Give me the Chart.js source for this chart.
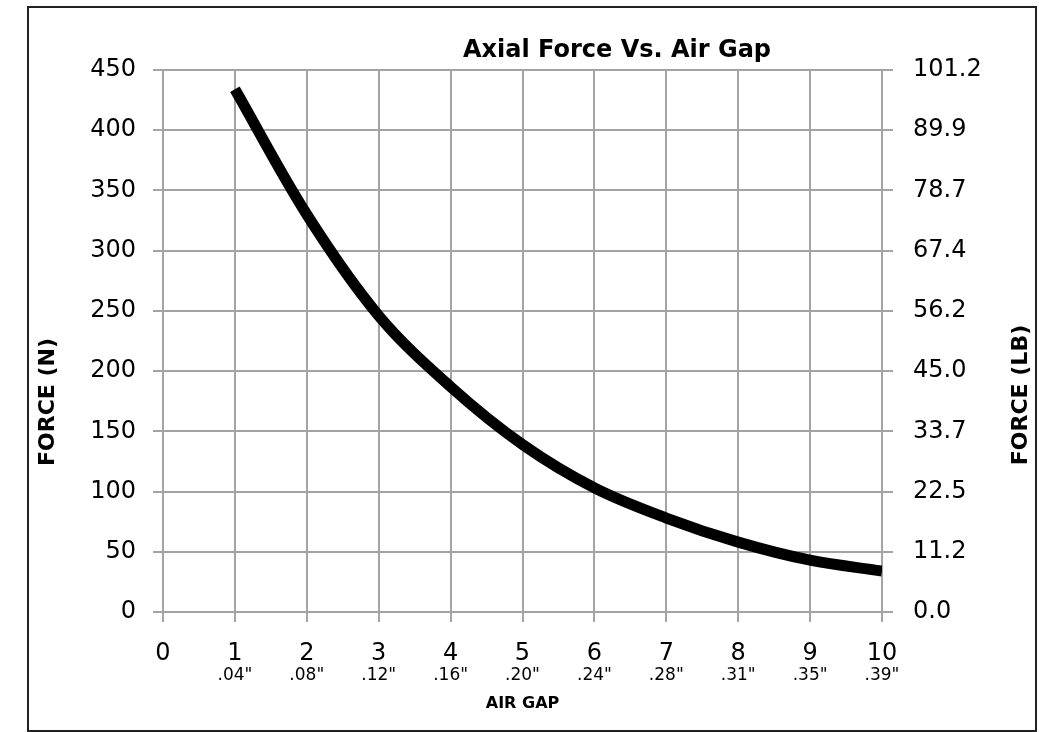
<!DOCTYPE html>
<html>
<head>
<meta charset="utf-8">
<script src="https://cdn.jsdelivr.net/npm/chart.js@4.4.0/dist/chart.umd.min.js"></script>
<style>
  html, body { margin: 0; padding: 0; background: #fff; }
  #wrap { position: relative; width: 1039px; height: 732px; }
</style>
</head>
<body>
<div id="wrap"><canvas id="myChart"></canvas></div>
<script>
// values
const airGap = [1, 2, 3, 4, 5, 6, 7, 8, 9, 10];
const forceN = [434, 330, 246, 187, 139, 103, 78, 58, 43, 34];
const gapInches = ["", '.04"', '.08"', '.12"', '.16"', '.20"', '.24"', '.28"', '.31"', '.35"', '.39"'];
const forceLb = ["0.0", "11.2", "22.5", "33.7", "45.0", "56.2", "67.4", "78.7", "89.9", "101.2"];
const chartTitle = "Axial Force Vs. Air Gap";

const font = '"DejaVu Sans", Verdana, sans-serif';
const gridGray = "#a3a3a3";

let points = [];
airGap.forEach((g, i) => points.push({ x: g, y: forceN[i] }));

// frame, title and side titles
const textPlugin = {
  id: "textPlugin",
  beforeDraw(chart) {
    const c = chart.ctx;
    c.save();
    c.fillStyle = "#fff";
    c.fillRect(0, 0, chart.width, chart.height);
    c.restore();
  },
  afterDraw(chart) {
    const c = chart.ctx;
    c.save();
    c.strokeStyle = "#222";
    c.lineWidth = 2;
    c.strokeRect(28, 7, 1008, 724);

    c.fillStyle = "#000";
    c.font = "bold 24px " + font;
    c.textAlign = "center";
    c.textBaseline = "alphabetic";
    c.fillText(chartTitle, 617, 57);

    c.textBaseline = "middle";
    c.font = "bold 22px " + font;
    c.translate(48, 402);
    c.rotate(-Math.PI / 2);
    c.fillText("FORCE (N)", 0, 0);
    c.restore();

    c.save();
    c.fillStyle = "#000";
    c.font = "bold 22px " + font;
    c.textAlign = "center";
    c.textBaseline = "middle";
    c.translate(1021, 395);
    c.rotate(-Math.PI / 2);
    c.fillText("FORCE (LB)", 0, 0);
    c.restore();
  },
};

const ctx = document.getElementById("myChart");

new Chart(ctx, {
  type: "line",
  data: {
    datasets: [
      {
        data: points,
        borderColor: "#000",
        borderWidth: 11,
        pointRadius: 0,
        tension: 0.35,
        fill: false,
      },
    ],
  },
  options: {
    responsive: true,
    maintainAspectRatio: false,
    devicePixelRatio: 1,
    animation: false,
    layout: { padding: { top: 70, left: 0, right: 0, bottom: 0 } },
    plugins: {
      legend: { display: false },
      tooltip: { enabled: false },
    },
    scales: {
      x: {
        type: "linear",
        position: "bottom",
        weight: 0,
        min: 0,
        max: 10,
        ticks: {
          stepSize: 1,
          padding: 17,
          color: "#000",
          font: { family: font, size: 24 },
          maxRotation: 0,
        },
        grid: { color: gridGray, lineWidth: 2, tickLength: 10 },
        border: { color: gridGray, width: 2 },
        afterFit: (s) => { s.height = 53; },
      },
      x2: {
        type: "linear",
        position: "bottom",
        weight: 1,
        min: 0,
        max: 10,
        ticks: {
          stepSize: 1,
          padding: 0,
          color: "#000",
          font: { family: font, size: 17 },
          maxRotation: 0,
          callback: (v) => gapInches[v],
        },
        grid: { display: false, drawTicks: false },
        border: { display: false },
        title: {
          display: true,
          text: "AIR GAP",
          color: "#000",
          font: { family: font, size: 16, weight: "bold" },
          padding: { top: 0, bottom: 19 },
        },
        afterFit: (s) => { s.height = 67; },
      },
      y: {
        position: "left",
        min: 0,
        max: 450,
        ticks: {
          stepSize: 50,
          padding: 17,
          color: "#000",
          font: { family: font, size: 24 },
        },
        grid: { color: gridGray, lineWidth: 2, tickLength: 10 },
        border: { color: gridGray, width: 2 },
        afterFit: (s) => { s.width = 163; },
      },
      y2: {
        position: "right",
        min: 0,
        max: 450,
        ticks: {
          stepSize: 50,
          padding: 20,
          color: "#000",
          font: { family: font, size: 24 },
          callback: (v) => forceLb[v / 50],
        },
        grid: { drawOnChartArea: false, color: gridGray, lineWidth: 2, tickLength: 11 },
        border: { color: gridGray, width: 2 },
        afterFit: (s) => { s.width = 157; },
      },
    },
  },
  plugins: [textPlugin],
});
</script>
</body>
</html>
